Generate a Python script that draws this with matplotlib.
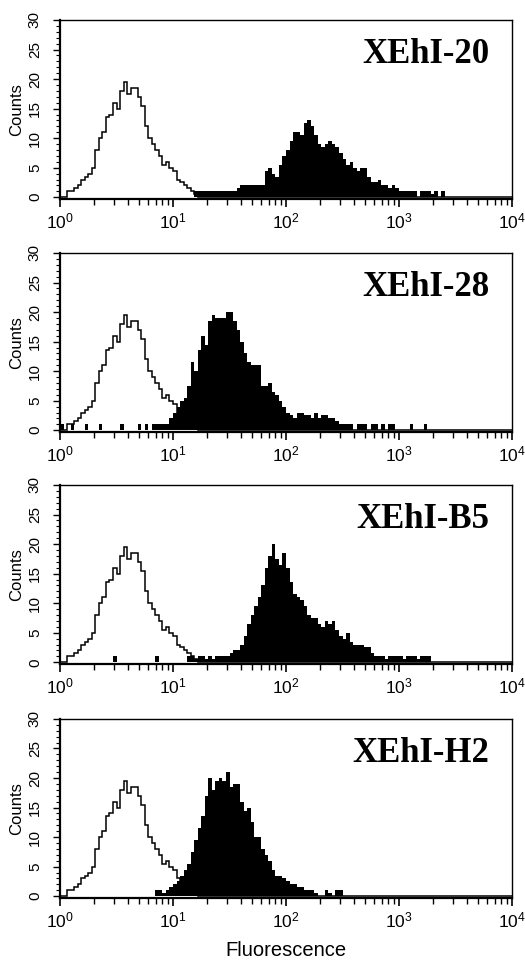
import numpy as np
import matplotlib
matplotlib.use("Agg")
import matplotlib.pyplot as plt
from matplotlib.ticker import MultipleLocator, LogLocator

# fonts: Helvetica-like for axes, Times-like bold for clone names
plt.rcParams["font.family"] = ["Liberation Sans", "DejaVu Sans"]
plt.rcParams["mathtext.fontset"] = "custom"
plt.rcParams["mathtext.rm"] = "Liberation Sans"
plt.rcParams["mathtext.it"] = "Liberation Sans:italic"

# 128 log channels over 4 decades (32 per decade)
n_ch = 128
edges = 10 ** (np.arange(n_ch + 1) / 32)

# isotype control (open outline, same in every panel), starts at channel 2
control_start = 2
control_counts = [1, 1, 1.5, 2, 3, 3.5, 4, 5, 8, 10, 11, 13.5, 14, 16, 15, 18,
                  19.5, 17.5, 18.5, 18.5, 17, 15.5, 12, 10, 9, 8, 7, 5.5, 6, 5,
                  4.5, 3, 2.5, 2, 1.5, 1, 0.5]

clone_names = ["XEhI-20", "XEhI-28", "XEhI-B5", "XEhI-H2"]

# filled histograms (start channel + counts)
xehi20_start = 38
xehi20_counts = [1, 1, 1, 1, 1, 1, 1, 1, 1, 1, 1, 1,
                 1.5, 2, 2, 2, 2, 2, 2, 2,
                 4.5, 5, 4, 3.5, 5.5, 7, 8, 9.5, 11, 11,
                 10.5, 12.5, 13, 12, 10.5, 9, 8.5, 9, 9.5, 9,
                 8.5, 7.5, 6.5, 5.5, 6, 5, 4.5, 5, 5, 3.5,
                 2.5, 2.5, 3, 2, 2, 1.5, 2, 1.5,
                 1, 1, 1, 1, 1, 0, 1, 1, 1, 0.5, 1, 0, 1]

xehi28_start = 0
xehi28_counts = [1, 0, 0, 1, 0, 0, 0, 1, 0, 0, 0, 1, 0, 0, 0, 0, 0, 1, 0, 0,
                 0, 0, 1, 0, 1, 0, 1, 1, 1, 1, 1, 2, 3, 4, 5, 5.5, 7.5, 11.5, 10, 13.5,
                 16, 14.5, 18.5, 19.5, 19, 19, 19, 20, 20, 18.5,
                 17, 15, 13, 11.5, 11, 11, 11, 7.5, 7.5, 8,
                 6.5, 6, 5, 4, 3, 2.5, 2, 3, 3, 2.5,
                 2.5, 2, 3, 2, 2.5, 2.5, 2, 2, 1.5, 1,
                 1, 1, 1, 0, 1, 1, 1, 0, 1, 1,
                 0, 1, 0, 1, 1, 0, 0, 0, 0, 1, 0, 0, 0, 1]

xehib5_start = 15
xehib5_counts = [1, 0, 0, 0, 0, 0, 0, 0, 0, 0, 0, 0, 1, 0, 0, 0, 0, 0, 0, 0, 0,
                 1, 1, 0.5, 1, 1, 0.5, 1, 0.5, 1, 1, 1, 1,
                 1.5, 2, 2, 3, 4.5, 6.5, 8, 9.5, 11, 13, 16, 18, 20,
                 17.5, 16.5, 18.5, 16, 13.5, 11.5, 11, 10.5, 9.5, 8,
                 7.5, 7.5, 6.5, 6, 7, 6.5, 7, 5.5, 4.5, 4,
                 5, 3.5, 3, 3, 3, 2.5, 2.5, 1.5, 1,
                 1, 1, 0.5, 1, 1, 1, 1, 0.5, 1, 1, 1, 0.5, 1, 1, 1]

xehih2_start = 27
xehih2_counts = [1, 1, 0.5, 1, 1.5, 2, 2.5, 3.5, 4.5, 5.5,
                 7.5, 9.5, 11.5, 13.5, 17, 20, 18, 19.5, 20, 19.5,
                 21, 18.5, 19, 19, 16, 14.5, 15, 12.5, 10, 10,
                 8, 7, 6, 4.5, 3.5, 3.5, 3, 2.5, 2, 2,
                 1.5, 1.5, 1, 1, 1, 0.5, 0, 0, 1, 0.5,
                 0, 1, 1]

fill_starts = [xehi20_start, xehi28_start, xehib5_start, xehih2_start]
fill_counts = [xehi20_counts, xehi28_counts, xehib5_counts, xehih2_counts]


def to_channels(start, counts):
    arr = np.zeros(n_ch)
    arr[start:start + len(counts)] = counts
    return arr


control = to_channels(control_start, control_counts)

fig = plt.figure(figsize=(5.25, 9.6), dpi=100)
bottoms = [0.7927, 0.55, 0.3083, 0.0646]

for i in range(4):
    ax = fig.add_axes([0.1143, bottoms[i], 0.861, 0.1865])
    ax.stairs(control, edges, color="black", lw=1.1, zorder=2)
    ax.stairs(to_channels(fill_starts[i], fill_counts[i]), edges,
              fill=True, color="black", lw=0, zorder=3)

    ax.set_xscale("log")
    ax.set_xlim(1, 1e4)
    ax.set_ylim(-0.3, 30)
    ax.xaxis.set_major_locator(LogLocator(base=10))
    ax.xaxis.set_minor_locator(LogLocator(base=10, subs=range(2, 10)))
    ax.yaxis.set_major_locator(MultipleLocator(5))
    ax.yaxis.set_minor_locator(MultipleLocator(1))

    ax.tick_params(axis="x", which="major", length=6, width=1.2, labelsize=12.5, pad=3)
    ax.tick_params(axis="x", which="minor", length=4, width=1.0)
    ax.tick_params(axis="y", which="major", length=5, width=1.0, labelsize=11,
                   pad=8, labelrotation=90)
    ax.tick_params(axis="y", which="minor", length=3, width=0.8)
    for lab in ax.get_yticklabels():
        lab.set_va("center")

    for side in ["top", "right"]:
        ax.spines[side].set_linewidth(1.0)
    for side in ["left", "bottom"]:
        ax.spines[side].set_linewidth(1.6)

    ax.set_ylabel("Counts", fontsize=12, labelpad=3)
    ax.text(0.95, 0.757, clone_names[i], transform=ax.transAxes, ha="right",
            va="baseline", fontsize=25, fontweight="bold",
            family=["Liberation Serif", "DejaVu Serif"])

    if i == 3:
        ax.set_xlabel("Fluorescence", fontsize=14.5, labelpad=8)

plt.savefig("out.png", dpi=100)
